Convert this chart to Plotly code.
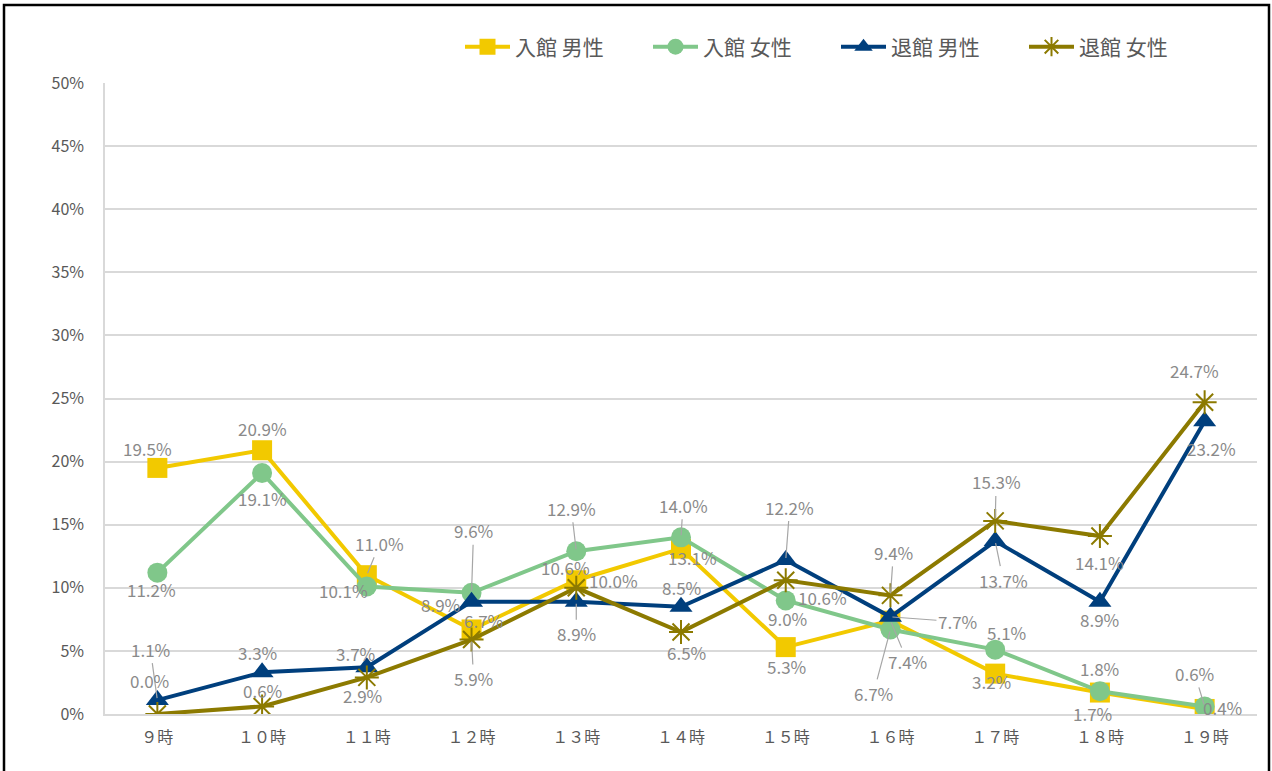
import plotly.graph_objects as go

# ---- data -------------------------------------------------------------
hours = ["９時", "１０時", "１１時", "１２時", "１３時", "１４時",
         "１５時", "１６時", "１７時", "１８時", "１９時"]

enter_male = [19.5, 20.9, 11.0, 6.7, 10.6, 13.1, 5.3, 7.4, 3.2, 1.7, 0.4]
enter_female = [11.2, 19.1, 10.1, 9.6, 12.9, 14.0, 9.0, 6.7, 5.1, 1.8, 0.6]
leave_male = [1.1, 3.3, 3.7, 8.9, 8.9, 8.5, 12.2, 7.7, 13.7, 8.9, 23.2]
leave_female = [0.0, 0.6, 2.9, 5.9, 10.0, 6.5, 10.6, 9.4, 15.3, 14.1, 24.7]

series_names = ["入館 男性", "入館 女性", "退館 男性", "退館 女性"]

# ---- label placement (pixel offset of each label from its point; leader flag)
enter_male_lbl = [(-10, -19, 0), (0, -22, 0), (13, -32, 1), (12, -9, 0), (-11, -13, 0),
                  (11, 9, 0), (1, 19, 0), (17, 41, 1), (-4, 8, 0), (-7, 21, 0), (18, -1, 0)]
enter_female_lbl = [(-6, 17, 0), (0, 26, 0), (-23, 4, 0), (2, -62, 1), (-5, -43, 1),
                    (2, -32, 1), (2, 18, 0), (-17, 64, 1), (11, -17, 0), (0, -23, 0), (-10, -33, 1)]
leave_male_lbl = [(-7, -51, 1), (-5, -20, 0), (-11, -14, 0), (-31, 3, 0), (0, 32, 1),
                  (0, -19, 0), (4, -53, 1), (67, 5, 1), (8, 39, 1), (0, 18, 0), (7, 27, 0)]
leave_female_lbl = [(-8, -34, 0), (0, -16, 0), (-4, 18, 0), (2, 39, 1), (37, -7, 0),
                    (5, 21, 0), (37, 17, 0), (3, -43, 1), (1, -39, 1), (0, 26, 0), (-10, -32, 0)]

# ---- styles -------------------------------------------------------------
colors = ["#F2C900", "#80C78A", "#003F7D", "#8C7A00"]
symbols = ["square", "circle", "triangle-up", "asterisk-open"]
FONT = "Noto Sans CJK JP, Noto Sans, sans-serif"
TXT = "#595959"
LBL = "#8a8a8a"

W, H = 1272, 771
M_L, M_R, M_T, M_B = 105, 15, 83, 57

fig = go.Figure()
all_values = [enter_male, enter_female, leave_male, leave_female]
all_labels = [enter_male_lbl, enter_female_lbl, leave_male_lbl, leave_female_lbl]

for name, vals, col, sym in zip(series_names, all_values, colors, symbols):
    marker = dict(symbol=sym, size=20, color=col)
    if sym == "asterisk-open":
        marker = dict(symbol=sym, size=20, color=col, line=dict(color=col, width=2))
    fig.add_trace(go.Scatter(
        x=hours, y=vals, name=name, mode="lines+markers",
        line=dict(color=col, width=4), marker=marker,
        hovertemplate="%{x}: %{y:.1f}%<extra>" + name + "</extra>",
    ))

annotations = []
for vals, lbls in zip(all_values, all_labels):
    for h, v, (dx, dy, lead) in zip(hours, vals, lbls):
        annotations.append(dict(
            x=h, y=v, xref="x", yref="y", text=f"{v:.1f}%",
            showarrow=True, ax=dx, ay=dy, axref="pixel", ayref="pixel",
            arrowhead=0, arrowwidth=1.2, standoff=2,
            arrowcolor="#a6a6a6" if lead else "rgba(0,0,0,0)",
            font=dict(family=FONT, size=17, color=LBL),
        ))

# outer chart frame
pw = W - M_L - M_R
ph = H - M_T - M_B
fx0, fx1 = 4, 1269
fy0, fy1 = 5, 776
fig.add_shape(type="rect", xref="paper", yref="paper",
              x0=(fx0 - M_L) / pw, x1=(fx1 - M_L) / pw,
              y0=(H - M_B - fy1) / ph, y1=(H - M_B - fy0) / ph,
              line=dict(color="black", width=2.5), fillcolor="rgba(0,0,0,0)",
              layer="above")

fig.update_layout(
    width=W, height=H,
    margin=dict(l=M_L, r=M_R, t=M_T, b=M_B, pad=0, autoexpand=False),
    paper_bgcolor="white", plot_bgcolor="white",
    font=dict(family=FONT, size=16, color=TXT),
    showlegend=True,
    legend=dict(orientation="h", x=(460 - M_L) / pw, xanchor="left",
                y=(H - M_B - 47) / ph, yanchor="middle",
                font=dict(family=FONT, size=21, color=TXT),
                itemwidth=45, entrywidth=128, entrywidthmode="pixels",
                bgcolor="rgba(0,0,0,0)", traceorder="normal"),
    annotations=annotations,
)
fig.update_xaxes(
    type="category", showgrid=False, showline=True, linecolor="#d9d9d9", linewidth=1.5,
    ticks="", tickfont=dict(family=FONT, size=16, color=TXT), ticklabelstandoff=8,
    range=[-0.5, len(hours) - 0.5], zeroline=False,
)
fig.update_yaxes(
    range=[0, 50], dtick=5, ticksuffix="%", showgrid=True, gridcolor="#d9d9d9",
    gridwidth=1.5, showline=True, linecolor="#d9d9d9", linewidth=1.5, zeroline=False,
    tickfont=dict(family=FONT, size=16, color=TXT), ticks="", ticklabelstandoff=16,
)

fig.write_html("out.html")
